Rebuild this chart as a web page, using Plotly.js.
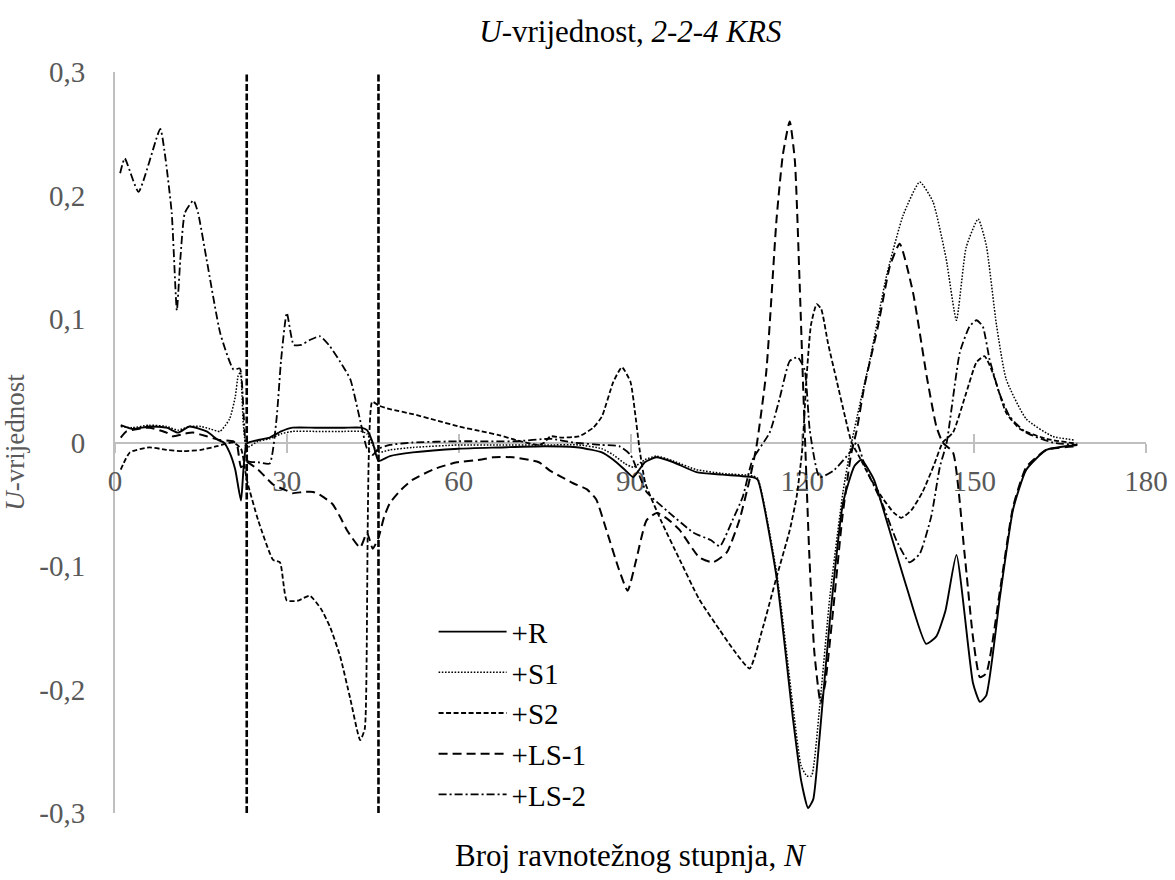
<!DOCTYPE html>
<html><head><meta charset="utf-8">
<script src="https://cdn.plot.ly/plotly-3.0.1.min.js"></script>
<style>html,body{margin:0;padding:0;background:#fff}#chart{width:1175px;height:880px}</style>
</head><body><div id="chart"></div>
<script>
// ---- data ----
const seriesNames = ['+R', '+S1', '+S2', '+LS-1', '+LS-2'];

const R_N = [1,3,6,9,11,13,16,18,19,20,21,22,23,25,27,29,31,35,40,43,44,45,46,48,52,60,67,75,81,85,87,89,90.5,92.5,94.5,97.5,101.5,106,111.3,112.2,115.5,118.4,119.8,121,121.9,123,124.8,127.1,129.1,130.3,132.5,134.7,138.2,141.6,143.4,145,146.9,149.8,151,152.1,154.5,156.8,159.1,162.6,168];
const R_U = [0.014,0.011,0.013,0.012,0.008,0.013,0.009,0.002,0.000,-0.008,-0.022,-0.047,-0.001,0.002,0.004,0.009,0.012,0.012,0.012,0.012,0.010,0.000,-0.015,-0.011,-0.008,-0.005,-0.004,-0.003,-0.004,-0.008,-0.014,-0.022,-0.028,-0.016,-0.012,-0.016,-0.024,-0.026,-0.028,-0.030,-0.109,-0.225,-0.274,-0.296,-0.289,-0.239,-0.144,-0.049,-0.019,-0.014,-0.030,-0.063,-0.117,-0.163,-0.157,-0.136,-0.091,-0.195,-0.210,-0.205,-0.125,-0.054,-0.022,-0.006,-0.002];

const S1_N = [1,3,6,9,11,13,15,16.6,18.3,20,21,21.5,21.9,22.4,23,25,27,29,31,35,40,43,44,45,46,48,52,60,67,75,81,85,87,89,90.5,92.5,94.5,97.5,101.5,106,111.3,112.2,115.5,118.4,119.8,120.8,121.6,123,124.8,127.1,128.6,130,131.8,134.7,137.6,140.5,142.8,145.1,146.9,148.6,150.7,152.1,153.9,155.6,159.1,163.7,167.5];
const S1_U = [0.013,0.012,0.014,0.013,0.010,0.013,0.013,0.011,0.009,0.019,0.037,0.054,0.057,0.015,-0.004,0.001,0.003,0.007,0.009,0.009,0.009,0.009,0.007,-0.002,-0.008,-0.006,-0.004,-0.002,-0.002,-0.002,-0.002,-0.005,-0.010,-0.017,-0.020,-0.014,-0.011,-0.015,-0.022,-0.025,-0.027,-0.029,-0.105,-0.215,-0.262,-0.270,-0.270,-0.215,-0.125,-0.040,0.000,0.030,0.067,0.135,0.184,0.211,0.195,0.149,0.099,0.158,0.181,0.160,0.095,0.051,0.019,0.005,0.002];

const S2_N = [1,2.6,6,9,12,15,17.8,20.6,22,23,25,27.6,28.8,30,32,34,36,37.6,39.3,41.1,42.8,43.6,44.9,46,48,52,56,60,64,67,70,74,75,76,78,81,83.5,85,87,88.5,90,90.8,91.6,92.6,95.3,98.6,102,105.6,108,110.8,113.1,115.5,117.8,119,120,120.7,121.5,122.5,123.3,124.5,126,127.5,128.6,130,132,134,136,137.3,139,141,143,144.5,146.3,148.6,150.4,151.8,153.2,155.6,158,162.6,168];
const S2_U = [-0.022,-0.008,-0.004,-0.006,-0.007,-0.006,-0.003,0.000,-0.005,-0.030,-0.063,-0.095,-0.097,-0.128,-0.128,-0.124,-0.135,-0.150,-0.173,-0.208,-0.241,-0.232,0.033,0.030,0.027,0.023,0.018,0.013,0.009,0.006,0.002,-0.002,0.000,0.005,0.004,0.005,0.012,0.021,0.049,0.061,0.049,0.024,-0.006,-0.033,-0.063,-0.095,-0.127,-0.152,-0.168,-0.183,-0.150,-0.109,-0.071,-0.044,-0.005,0.050,0.095,0.112,0.108,0.080,0.050,0.020,0.000,-0.012,-0.030,-0.045,-0.057,-0.061,-0.055,-0.040,-0.018,0.000,0.008,0.040,0.065,0.070,0.057,0.024,0.011,0.003,-0.001];

const LS1_N = [1,2,4,6,9,10,12,13.6,16,18.3,20.6,21.3,22,23,25,27.6,30,31,33,34.6,36,38,39.5,40.5,42.8,44,45,46,47,48,50,52,56,59.7,63.7,66,69.5,74,76,78,80,82.4,84,85.8,88,89.5,91,92.8,94.6,96.5,98.6,102,104.4,106.8,109,110.8,112,113.7,115.5,116.6,117.8,118.7,119.5,120.1,121.2,122.1,123.2,124,125.5,127,128.5,129.5,130.8,133.2,135.3,137,139.3,141.7,143.4,144.5,146.3,148.3,149.8,151,152.1,154.5,156.8,159.1,162.6,168];
const LS1_U = [0.004,0.009,0.011,0.012,0.008,0.005,0.007,0.008,0.005,0.002,0.001,-0.002,-0.020,-0.016,-0.022,-0.034,-0.039,-0.041,-0.040,-0.040,-0.043,-0.050,-0.062,-0.071,-0.085,-0.073,-0.086,-0.077,-0.060,-0.049,-0.038,-0.030,-0.021,-0.016,-0.014,-0.012,-0.012,-0.016,-0.023,-0.028,-0.033,-0.038,-0.046,-0.071,-0.103,-0.120,-0.095,-0.063,-0.057,-0.062,-0.071,-0.093,-0.097,-0.089,-0.063,-0.030,-0.003,0.057,0.181,0.233,0.260,0.228,0.133,0.051,-0.089,-0.170,-0.211,-0.195,-0.130,-0.060,-0.010,0.010,0.045,0.094,0.143,0.161,0.122,0.054,0.013,0.000,-0.008,-0.089,-0.158,-0.190,-0.187,-0.120,-0.052,-0.020,-0.006,-0.003];

const LS2_N = [0.9,1.7,4.1,7.9,8.7,9.9,10.8,11.4,12.2,13.7,14.5,16,18.4,20.7,21.8,22.5,23.2,25,27,28.2,29,30,31.2,32.5,34,35.8,37.5,39.9,41.1,42.8,44,45,46,48,52,60,70,76,80,85,88,90,92.8,96.3,101,104,105.6,107.8,109.6,111.3,114.3,116,117.8,119.2,120.4,121.3,123,125.4,128.3,129.5,131,134,136.5,138.7,140.5,142.5,144,145.2,147.5,149.2,150.4,151.5,152.7,154.4,156.2,159.1,163.7,168];
const LS2_U = [0.218,0.230,0.203,0.254,0.234,0.186,0.107,0.148,0.186,0.196,0.186,0.148,0.088,0.059,0.060,0.020,-0.015,-0.016,-0.017,0.019,0.067,0.105,0.079,0.079,0.083,0.086,0.078,0.061,0.051,0.018,-0.005,-0.010,-0.005,-0.002,0.000,0.001,0.001,0.003,0.000,-0.002,-0.003,-0.010,-0.040,-0.055,-0.073,-0.079,-0.084,-0.063,-0.044,-0.014,0.008,0.035,0.066,0.069,0.059,0.010,-0.028,-0.023,-0.008,0.000,-0.020,-0.050,-0.080,-0.097,-0.090,-0.060,-0.020,0.000,0.073,0.094,0.099,0.094,0.067,0.040,0.021,0.008,0.000,-0.002];

// vertical marker lines (stage numbers) spanning the full U range
const markerN = [23, 46];
const markerU = [-0.3, 0.3];

const xTickVals = [0, 30, 60, 90, 120, 150, 180];
const yTickVals = [-0.3, -0.2, -0.1, 0, 0.1, 0.2, 0.3];
const yTickText = ['-0,3', '-0,2', '-0,1', '0', '0,1', '0,2', '0,3'];

// ---- styles ----
const FONT = "'Liberation Serif', 'Times New Roman', serif";
const styles = [
  {dash: 'solid', width: 1.9},
  {dash: '1.6px,1.6px', width: 1.5},
  {dash: '5px,2.5px', width: 1.8},
  {dash: '9px,5px', width: 2},
  {dash: '8px,3px,2px,3px', width: 1.8}
];
const xs = [R_N, S1_N, S2_N, LS1_N, LS2_N];
const ys = [R_U, S1_U, S2_U, LS1_U, LS2_U];

const traces = [];
// markers live on the overlaying axis x2 (same range), which draws the upper half of the crossing ticks
markerN.forEach(function (n) {
  traces.push({
    x: [n, n], y: markerU, xaxis: 'x2', mode: 'lines', showlegend: false, hoverinfo: 'skip',
    line: {color: '#000', width: 2.6, dash: '7px,2.5px'}
  });
});
seriesNames.forEach(function (name, i) {
  traces.push({
    x: xs[i], y: ys[i], name: name, mode: 'lines',
    line: {color: '#000', width: styles[i].width, dash: styles[i].dash, shape: 'spline', smoothing: 0.5}
  });
});

const tickAxisCommon = {
  range: [0, 180], tickvals: xTickVals, anchor: 'free', position: 0.5,
  showgrid: false, zeroline: false, layer: 'below traces', fixedrange: true
};

const layout = {
  width: 1175, height: 880,
  margin: {l: 115, r: 29, t: 72, b: 67},
  paper_bgcolor: '#fff', plot_bgcolor: '#fff',
  font: {family: FONT, color: '#000'},
  showlegend: true,
  title: {
    text: '<i>U</i>-vrijednost, <i>2-2-4 KRS</i>',
    font: {family: FONT, size: 31, color: '#000'},
    x: 0.5365, xanchor: 'center', y: 0.965, yanchor: 'middle', yref: 'container'
  },
  xaxis: Object.assign({}, tickAxisCommon, {
    showline: true, linecolor: '#bfbfbf', linewidth: 2,
    ticks: 'outside', ticklen: 9, tickwidth: 2, tickcolor: '#bfbfbf',
    ticklabelstandoff: 4,
    tickfont: {family: FONT, size: 29, color: '#595959'}
  }),
  xaxis2: Object.assign({}, tickAxisCommon, {
    overlaying: 'x', matches: 'x', showline: false, showticklabels: false,
    ticks: 'inside', ticklen: 9, tickwidth: 2, tickcolor: '#bfbfbf'
  }),
  yaxis: {
    range: [-0.3, 0.3], tickvals: yTickVals, ticktext: yTickText,
    showline: true, linecolor: '#bfbfbf', linewidth: 2,
    ticks: 'outside', ticklen: 22, tickcolor: 'rgba(0,0,0,0)',
    tickfont: {family: FONT, size: 29, color: '#595959'},
    showgrid: false, zeroline: false, layer: 'below traces', fixedrange: true,
    title: {text: '<i>U</i>-vrijednost', font: {family: FONT, size: 27, color: '#595959'}, standoff: 8}
  },
  annotations: [{
    text: 'Broj ravnotežnog stupnja, <i>N</i>', xref: 'paper', yref: 'paper',
    x: 0.5, y: -0.057, xanchor: 'center', yanchor: 'middle', showarrow: false,
    font: {family: FONT, size: 31, color: '#000'}
  }],
  legend: {
    x: 0.309, y: 0.279, xanchor: 'left', yanchor: 'top',
    bgcolor: 'rgba(0,0,0,0)', borderwidth: 0,
    font: {family: FONT, size: 29, color: '#000'},
    itemwidth: 68, traceorder: 'normal', tracegroupgap: 0
  }
};

Plotly.newPlot('chart', traces, layout, {staticPlot: true, displayModeBar: false});
</script>
</body></html>
